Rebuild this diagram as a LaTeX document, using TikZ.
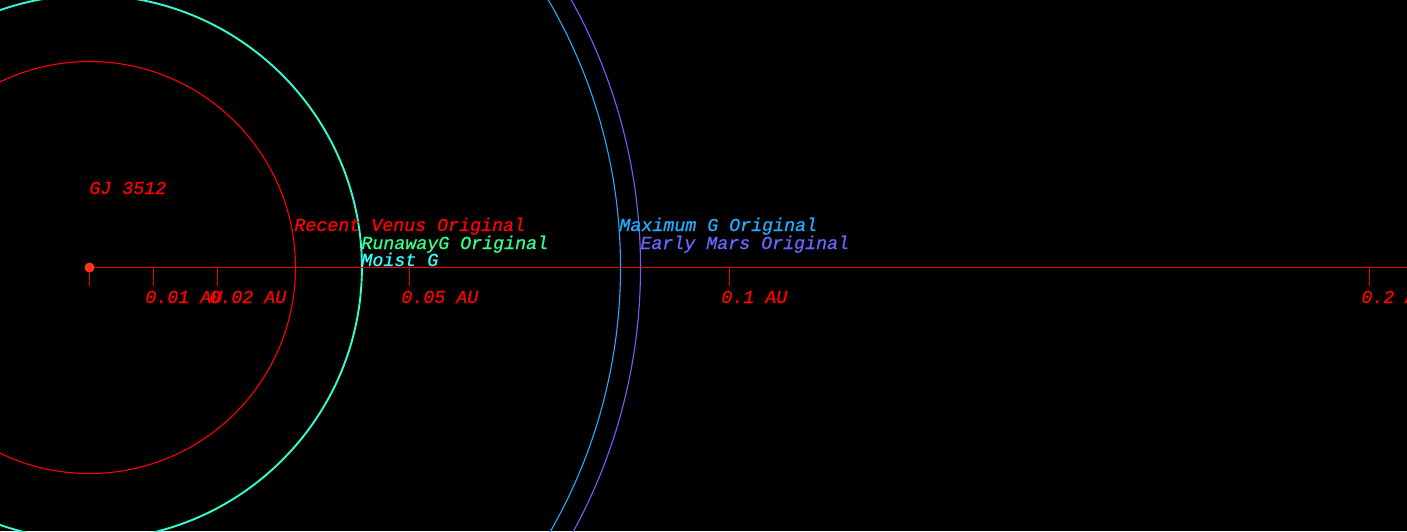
\documentclass[tikz,border=0pt]{standalone}
\usepackage{fontspec}
\setmonofont{Liberation Mono}[ItalicFeatures={FakeBold=0.8}]
\definecolor{cred}{RGB}{255,0,0}
\definecolor{caxis}{RGB}{235,0,0}
\definecolor{cgreen}{RGB}{51,255,136}
\definecolor{ccyan}{RGB}{51,255,255}
\definecolor{cmax}{RGB}{34,170,255}
\definecolor{cmars}{RGB}{102,102,255}
\definecolor{cstar}{RGB}{255,51,34}
\tikzset{
  lbl/.style={inner sep=0pt, anchor=base west, font=\fontsize{9.15}{11}\selectfont\ttfamily\itshape},
  orbit/.style={line width=0.55pt},
  tickmark/.style={caxis, line width=0.5pt},
}
\begin{document}
\begin{tikzpicture}[x=0.5pt,y=-0.5pt]
\fill[black] (0,0) rectangle (1407,531);
\useasboundingbox (0,0) rectangle (1407,531);
\clip (0,0) rectangle (1407,531);
\coordinate (c) at (89.5,267.5);
% orbits
\draw[orbit, cred] (c) circle[radius=103pt];
\draw[orbit, cgreen] (c) circle[radius=136pt];
\draw[orbit, ccyan] (c) circle[radius=136.4pt];
\draw[orbit, cmax] (c) circle[radius=265.5pt];
\draw[orbit, cmars] (c) circle[radius=275.5pt];
% axis
\coordinate (axend) at (1407,267.5);
\draw[tickmark] (c) -- (axend);
\foreach \n/\x in {s/89.5, a/153.5, b/217.5, e/409.5, f/729.5, g/1369.5}{
  \coordinate (t\n top) at (\x,267.5);
  \coordinate (t\n bot) at (\x,286);
  \draw[tickmark] (t\n top) -- (t\n bot);
}
% star
\node[circle, fill=cstar, inner sep=0pt, minimum size=5pt] (star) at (c) {};
% labels
\node[lbl, cred] (name) at (89,194) {GJ 3512};
\node[lbl, cred] (l1) at (145,303) {0.01 AU};
\node[lbl, cred] (l2) at (209,303) {0.02 AU};
\node[lbl, cred] (l5) at (401,303) {0.05 AU};
\node[lbl, cred] (l10) at (721,303) {0.1 AU};
\node[lbl, cred] (l20) at (1361,303) {0.2 AU};
\node[lbl, cred] (venus) at (294,231) {Recent Venus Original};
\node[lbl, cgreen] (runaway) at (361,249) {RunawayG Original};
\node[lbl, ccyan] (moist) at (361,266) {Moist G};
\node[lbl, cmax] (maxg) at (619,231) {Maximum G Original};
\node[lbl, cmars] (mars) at (640,249) {Early Mars Original};
\end{tikzpicture}
\end{document}
